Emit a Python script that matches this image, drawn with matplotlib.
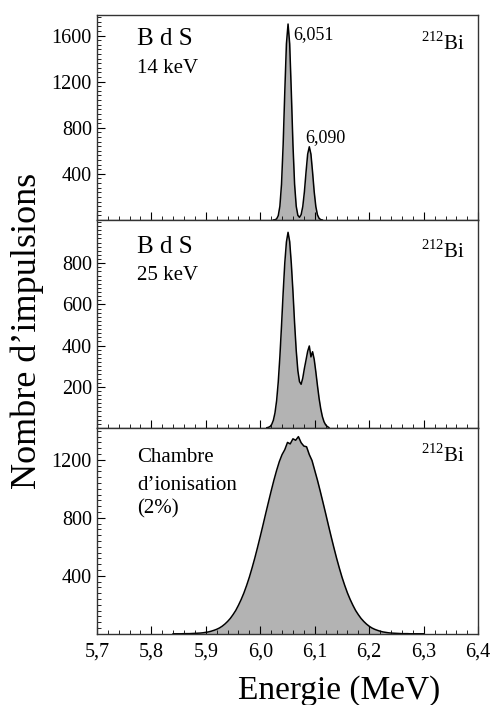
import numpy as np
import matplotlib
matplotlib.use("Agg")
import matplotlib.pyplot as plt
from matplotlib.ticker import MultipleLocator, FuncFormatter, AutoMinorLocator

plt.rcParams['font.family'] = ['Liberation Serif', 'DejaVu Serif']
plt.rcParams['mathtext.fontset'] = 'custom'
plt.rcParams['mathtext.rm'] = 'Liberation Serif'

# spectrum 1 : B d S, 14 keV (bins of 3 keV)
e_14 = np.round(np.arange(6.024, 6.1141, 0.003), 3)
n_14 = [0, 2, 9, 37, 119, 310, 653, 1110, 1528, 1700, 1528, 1110, 653, 310, 119,
        40, 23, 46, 116, 244, 415, 571, 635, 571, 415, 244, 116, 44, 14, 3, 0]

# spectrum 2 : B d S, 25 keV
e_25 = np.round(np.arange(6.012, 6.1261, 0.003), 3)
n_25 = [1, 3, 7, 17, 37, 73, 132, 223, 346, 496, 656, 801, 903, 950, 905, 798,
        662, 509, 376, 278, 225, 212, 242, 289, 330, 372, 398, 345, 370, 333, 272,
        205, 143, 93, 55, 30, 15, 7, 2]

# spectrum 3 : chambre d'ionisation (bins of 5 keV)
e_ci = np.round(np.arange(5.84, 6.3001, 0.005), 3)
n_ci = [0, 0, 0, 0, 1, 1, 1, 2, 3, 4, 5, 7, 10, 13, 18, 24, 31, 40, 52, 67,
        85, 106, 132, 161, 197, 237, 282, 334, 391, 455, 523, 596, 672, 750, 830, 908,
        985, 1059, 1127, 1188, 1236, 1270, 1320, 1310, 1345, 1335, 1360, 1318, 1295, 1290, 1236, 1195,
        1127, 1059, 985, 908, 830, 750, 672, 596, 523, 455, 391, 334, 282, 237, 197, 161,
        132, 106, 85, 67, 52, 40, 31, 24, 18, 13, 10, 7, 5, 4, 3, 2, 1, 1, 1, 0,
        0, 0, 0, 0, 0]

xticks = [5.7, 5.8, 5.9, 6.0, 6.1, 6.2, 6.3, 6.4]
yticks_14 = [400, 800, 1200, 1600]
yticks_25 = [200, 400, 600, 800]
yticks_ci = [400, 800, 1200]

fig = plt.figure(figsize=(4.94, 7.05), dpi=100)
L, W = 0.196, 0.772
ax1 = fig.add_axes([L, 0.688, W, 0.291])
ax2 = fig.add_axes([L, 0.393, W, 0.295], sharex=ax1)
ax3 = fig.add_axes([L, 0.101, W, 0.292], sharex=ax1)

data = [(ax1, e_14, n_14, 1780, yticks_14, 0.83),
        (ax2, e_25, n_25, 1010, yticks_25, 0.817),
        (ax3, e_ci, n_ci, 1420, yticks_ci, 0.835)]
for ax, e, n, ymax, yt, ybi in data:
    ax.fill_between(e, n, color='#b3b3b3', lw=0)
    ax.plot(e, n, color='black', lw=1.1)
    ax.set_ylim(0, ymax)
    ax.set_xlim(5.7, 6.4)
    ax.set_yticks(yt)
    ax.yaxis.set_minor_locator(MultipleLocator((yt[1] - yt[0]) / 10))
    ax.tick_params(which='both', direction='in', top=False, right=False, labelsize=14.5)
    ax.tick_params(which='major', length=6, width=0.8)
    ax.tick_params(which='minor', length=3, width=0.6)
    for s in ax.spines.values():
        s.set_linewidth(1.0)
        s.set_color('#333333')
    ax.text(0.966, ybi, r'$^{212}$Bi', transform=ax.transAxes, ha='right',
            va='baseline', fontsize=15)

ax3.set_xticks(xticks)
ax3.xaxis.set_minor_locator(AutoMinorLocator(5))
ax3.xaxis.set_major_formatter(FuncFormatter(lambda v, p: ('%.1f' % v).replace('.', ',')))
ax3.tick_params(axis='x', pad=6)
for ax in (ax1, ax2):
    ax.tick_params(axis='x', labelbottom=False)

ax1.text(0.105, 0.854, 'B d S', transform=ax1.transAxes, fontsize=18, va='baseline')
ax1.text(0.105, 0.717, '14 keV', transform=ax1.transAxes, fontsize=15, va='baseline')
ax1.text(6.060, 1565, '6,051', fontsize=13, va='baseline')
ax1.text(6.082, 678, '6,090', fontsize=13, va='baseline')

ax2.text(0.105, 0.84, 'B d S', transform=ax2.transAxes, fontsize=18, va='baseline')
ax2.text(0.105, 0.71, '25 keV', transform=ax2.transAxes, fontsize=15, va='baseline')

ax3.text(0.105, 0.835, 'Chambre', transform=ax3.transAxes, fontsize=15, va='baseline')
ax3.text(0.105, 0.70, 'd\u2019ionisation', transform=ax3.transAxes, fontsize=15, va='baseline')
ax3.text(0.105, 0.585, '(2%)', transform=ax3.transAxes, fontsize=15, va='baseline')

ax3.set_xlabel('Energie (MeV)', fontsize=24)
ax3.xaxis.set_label_coords(0.635, -0.2)
fig.text(0.055, 0.53, 'Nombre d\u2019impulsions', rotation=90, fontsize=26,
         ha='center', va='center')

fig.savefig('out.png', dpi=100)
